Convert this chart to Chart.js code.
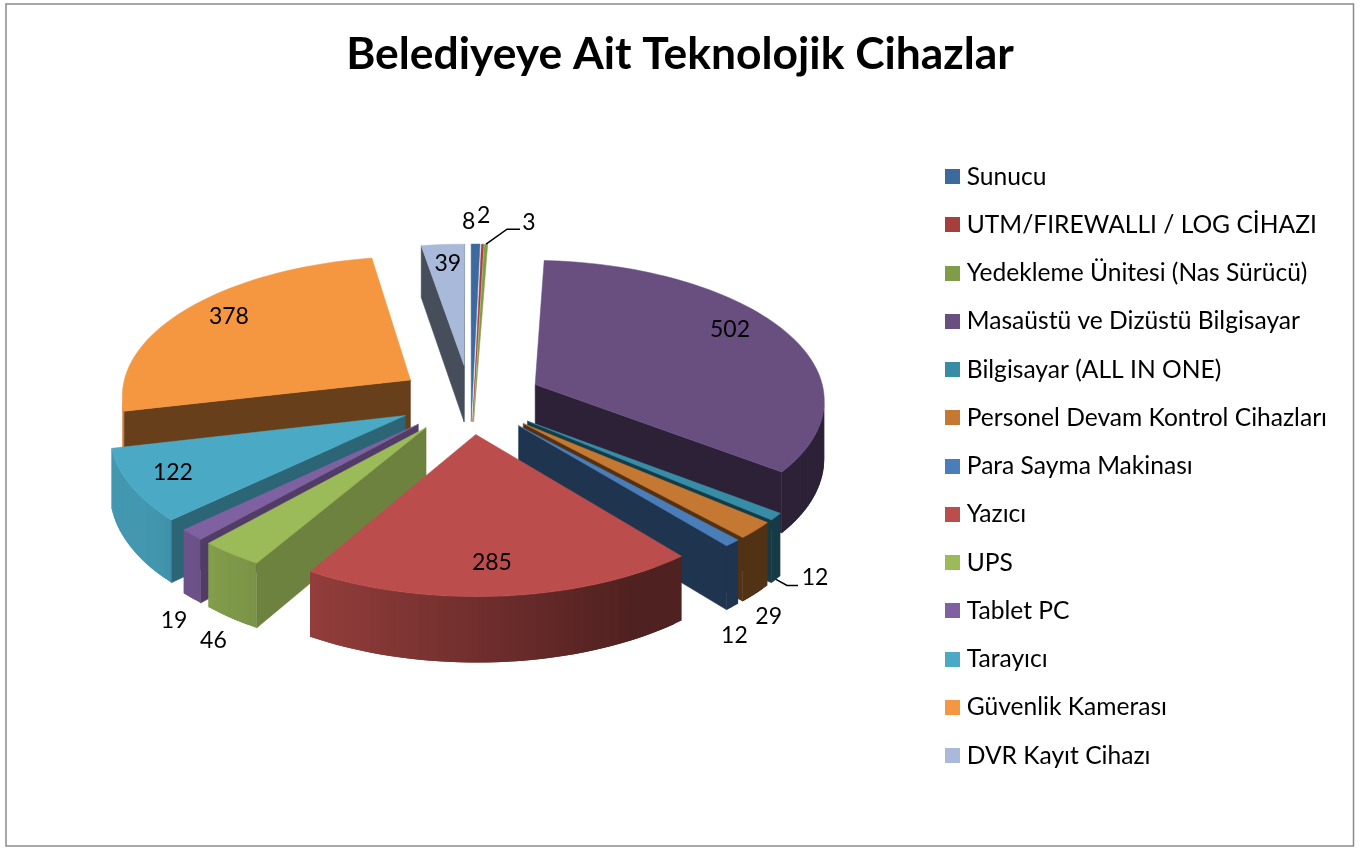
<!DOCTYPE html>
<html lang="tr">
<head>
<meta charset="utf-8">
<title>Belediyeye Ait Teknolojik Cihazlar</title>
<script src="https://cdn.jsdelivr.net/npm/chart.js@4"></script>
<style>
    html, body { margin: 0; padding: 0; background: #fff; }
    canvas { display: block; }
</style>
</head>
<body>
<canvas id="deviceChart" width="1360" height="849"></canvas>
<script>
const categories = ['Sunucu', 'UTM/FIREWALLI / LOG CİHAZI', 'Yedekleme Ünitesi (Nas Sürücü)', 'Masaüstü ve Dizüstü Bilgisayar', 'Bilgisayar (ALL IN ONE)', 'Personel Devam Kontrol Cihazları', 'Para Sayma Makinası', 'Yazıcı', 'UPS', 'Tablet PC', 'Tarayıcı', 'Güvenlik Kamerası', 'DVR Kayıt Cihazı'];
const deviceCounts = [8, 2, 3, 502, 12, 29, 12, 285, 46, 19, 122, 378, 39];
const sliceColors = ['#3d6a9e', '#a53f3c', '#7f9c47', '#684f80', '#378da6', '#c47832', '#4a7ebb', '#bb4e4c', '#9bbb59', '#7f60a0', '#4aa9c4', '#f59640', '#a9b9d9'];

// label placement: radius along the slice (1 = rim), top(0)/bottom(1) of the slice, then a nudge
const labelRadius = [1, 1, 1, 0.75, 1, 1, 1, 0.75, 1, 1, 0.75, 0.75, 0.75];
const labelLevel = [0, 0, 0, 0, 1, 1, 1, 0, 1, 1, 0, 0, 0];
const labelNudge = [[-7, -22], [1, -29], [43, -22], [7, -13], [39, -2], [13, 23], [2, 29], [-3, 10], [-18, 22], [-18, 22], [-29, 5], [-12, -9], [0, -9]];

// the three thin slices at the top collapse into one narrow wedge
const slivers = [0, 1, 2];
const leaderLabels = { 2: [[-22, 7], [-9, 7]], 4: [[-28, 8], [-17, 8]] };

// view of the tilted pie
const view = { cx: 470, cy: 399, rx: 290, ry: 139, depth: 58, explode: 0.25, perspective: 0.097 };

function project(angle, mid, r, level) {
    const u = Math.sin(mid) * view.explode + Math.sin(angle) * r;
    const v = -Math.cos(mid) * view.explode - Math.cos(angle) * r;
    const s = 1 / (1 - view.perspective * v);
    return {
        x: view.cx + view.rx * u * s,
        y: view.cy + view.ry * v * s + view.depth * level * s
    };
}

function shade(hex, f) {
    const n = parseInt(hex.slice(1), 16);
    const c = [n >> 16, (n >> 8) & 255, n & 255].map(v => Math.round(v * f));
    return `rgb(${c[0]},${c[1]},${c[2]})`;
}

function fillPoly(ctx, pts, color, outline = true) {
    ctx.beginPath();
    pts.forEach((p, i) => i ? ctx.lineTo(p.x, p.y) : ctx.moveTo(p.x, p.y));
    ctx.closePath();
    ctx.fillStyle = color;
    ctx.fill();
    if (outline) {
        ctx.strokeStyle = color;
        ctx.lineWidth = 0.5;
        ctx.stroke();
    }
}

function signedArea(pts) {
    let a = 0;
    pts.forEach((p, i) => {
        const q = pts[(i + 1) % pts.length];
        a += p.x * q.y - q.x * p.y;
    });
    return a / 2;
}

function rimTone(a) {
    if (a > 4.65) return 0.42;
    return Math.min(0.9, Math.max(0.42, 0.6 - 0.36 * Math.sin(a)));
}

function edgeTone(a, isStart) {
    if (!isStart) return 0.42;
    const deg = a * 180 / Math.PI;
    return Math.min(0.7, Math.max(0.42, 0.7 - (deg - 210) * 0.006));
}

function drawSlice(ctx, s, color) {
    const steps = Math.max(2, Math.ceil((s.end - s.start) / 0.03));
    const rim = [], rimLow = [];
    for (let i = 0; i <= steps; i++) {
        const a = s.start + (s.end - s.start) * i / steps;
        rim.push(project(a, s.mid, 1, 0));
        rimLow.push(project(a, s.mid, 1, 1));
    }
    const tip = project(s.mid, s.mid, 0, 0);
    const tipLow = project(s.mid, s.mid, 0, 1);

    if (slivers.includes(s.index)) {
        fillPoly(ctx, [...rim, tipLow], color);
        return;
    }

    // quads overlap the next one so no seams show between the bands
    for (let i = 0; i < steps; i++) {
        const next = Math.min(i + 2, steps);
        const quad = [rim[i], rim[next], rimLow[next], rimLow[i]];
        if (signedArea(quad) < 0) {
            fillPoly(ctx, quad, shade(color, rimTone(s.start + (s.end - s.start) * (i + 0.5) / steps)), false);
        }
    }
    const startWall = [tip, rim[0], rimLow[0], tipLow];
    if (signedArea(startWall) < 0) fillPoly(ctx, startWall, shade(color, edgeTone(s.start, true)));
    const endWall = [rim[steps], tip, tipLow, rimLow[steps]];
    if (signedArea(endWall) < 0) fillPoly(ctx, endWall, shade(color, edgeTone(s.end, false)));

    fillPoly(ctx, [tip, ...rim], color);
}

function drawLabels(ctx, slices) {
    ctx.font = '23px Lato';
    ctx.textAlign = 'center';
    ctx.textBaseline = 'middle';
    slices.forEach(s => {
        const anchor = project(s.mid, s.mid, labelRadius[s.index], labelLevel[s.index]);
        const x = anchor.x + labelNudge[s.index][0];
        const y = anchor.y + labelNudge[s.index][1];
        const leader = leaderLabels[s.index];
        if (leader) {
            ctx.beginPath();
            ctx.moveTo(anchor.x, anchor.y);
            leader.forEach(p => ctx.lineTo(x + p[0], y + p[1]));
            ctx.strokeStyle = '#000';
            ctx.lineWidth = 1.5;
            ctx.stroke();
        }
        ctx.fillStyle = '#000';
        ctx.fillText(String(deviceCounts[s.index]), x, y);
    });
}

const pie3dPlugin = {
    id: 'pie3d',
    beforeDraw(chart) {
        const ctx = chart.ctx;
        ctx.save();
        ctx.fillStyle = '#fff';
        ctx.fillRect(0, 0, chart.width, chart.height);
        ctx.strokeStyle = '#8a8a8a';
        ctx.lineWidth = 1.5;
        ctx.strokeRect(6, 4, 1347.5, 842);
        ctx.restore();
    },
    beforeDatasetsDraw(chart) {
        const ctx = chart.ctx;
        const slices = chart.getDatasetMeta(0).data.map((arc, index) => {
            const start = arc.startAngle + Math.PI / 2;
            const end = arc.endAngle + Math.PI / 2;
            return { index, start, end, mid: (start + end) / 2 };
        });
        ctx.save();
        [...slices]
            .sort((a, b) => Math.cos(b.mid) - Math.cos(a.mid))
            .forEach(s => drawSlice(ctx, s, sliceColors[s.index]));
        drawLabels(ctx, slices);
        ctx.restore();
        return false;
    }
};

function legendSwatch(color) {
    const box = document.createElement('canvas');
    box.width = 15;
    box.height = 15;
    const c = box.getContext('2d');
    c.fillStyle = color;
    c.fillRect(0, 0, 15, 15);
    return box;
}

new Chart(document.getElementById('deviceChart'), {
    type: 'pie',
    data: {
        labels: categories,
        datasets: [{ data: deviceCounts, backgroundColor: sliceColors, borderWidth: 0 }]
    },
    plugins: [pie3dPlugin],
    options: {
        responsive: false,
        animation: false,
        layout: { padding: { top: 0, right: 23, bottom: 0, left: 23 } },
        plugins: {
            tooltip: { enabled: false },
            title: {
                display: true,
                text: 'Belediyeye Ait Teknolojik Cihazlar',
                color: '#000',
                font: { family: 'Lato', size: 44.4, weight: 'bold' },
                padding: { top: 28, bottom: 2 }
            },
            legend: {
                position: 'right',
                fullSize: false,
                labels: {
                    color: '#000',
                    font: { family: 'Lato', size: 24.6 },
                    padding: 23.65,
                    usePointStyle: true,
                    boxWidth: 3,
                    boxHeight: 9,
                    generateLabels: () => categories.map((text, i) => ({
                        text,
                        fillStyle: sliceColors[i],
                        strokeStyle: sliceColors[i],
                        lineWidth: 0,
                        hidden: false,
                        index: i,
                        pointStyle: legendSwatch(sliceColors[i])
                    }))
                }
            }
        }
    }
});
</script>
</body>
</html>
